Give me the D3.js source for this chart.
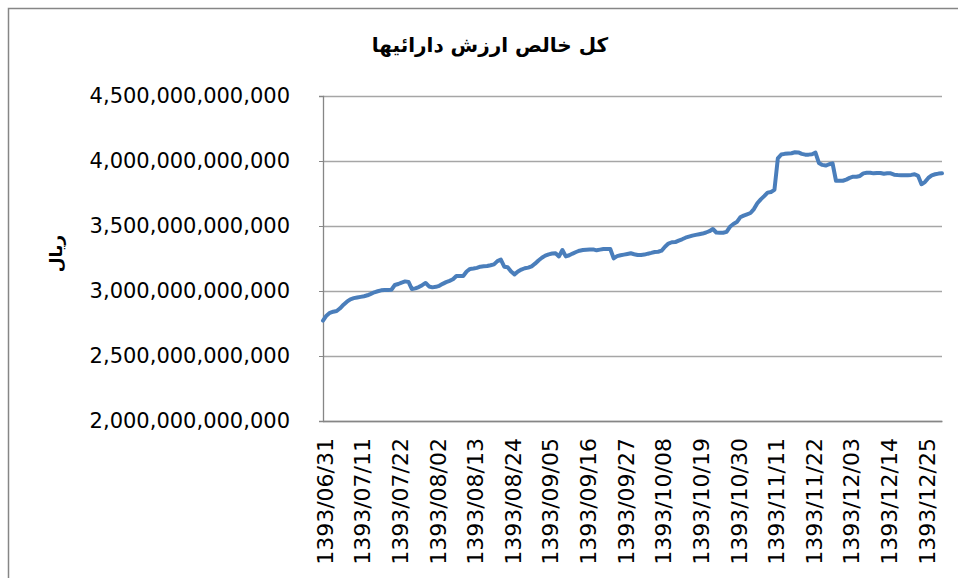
<!DOCTYPE html>
<meta charset="utf-8">
<script src="https://d3js.org/d3.v7.min.js"></script>
<style>
  body { margin: 0; background: #fff; }
  text { font-family: "DejaVu Sans", sans-serif; fill: #000; }
</style>
<div id="chart"></div>
<script>
// net asset value, billions of rials, one value per trading day
var nav = [
  2772, 2810, 2832, 2841, 2846, 2867, 2895, 2918, 2936, 2945,
  2950, 2955, 2960, 2967, 2978, 2990, 2998, 3005, 3007, 3008,
  3010, 3046, 3054, 3065, 3074, 3070, 3015, 3020, 3030, 3045,
  3062, 3035, 3028, 3032, 3040, 3055, 3068, 3078, 3090, 3115,
  3115, 3115, 3150, 3170, 3173, 3178, 3187, 3190, 3192, 3198,
  3205, 3230, 3242, 3187, 3183, 3150, 3128, 3150, 3165, 3175,
  3180, 3190, 3210, 3235, 3256, 3272, 3282, 3288, 3290, 3266,
  3315, 3266, 3275, 3288, 3300, 3310, 3315, 3318, 3320, 3320,
  3313, 3318, 3323, 3323, 3323, 3251, 3268, 3275, 3280, 3285,
  3290, 3283, 3277, 3277, 3280, 3287, 3293, 3300, 3302, 3310,
  3341, 3365, 3375, 3376, 3388, 3398, 3410, 3418, 3426, 3432,
  3437, 3442, 3450, 3460, 3477, 3450, 3448, 3448, 3455, 3494,
  3515, 3530, 3567, 3580, 3590, 3600, 3630, 3675, 3705, 3730,
  3757, 3762, 3778, 4020, 4050, 4055, 4058, 4060, 4067, 4066,
  4055, 4049, 4049, 4052, 4064, 3985, 3970, 3965, 3975, 3982,
  3848, 3848, 3848, 3857, 3870, 3879, 3879, 3885, 3905, 3910,
  3910, 3905, 3908, 3908, 3902, 3906, 3905, 3895, 3892, 3890,
  3890, 3891, 3893, 3898, 3886, 3821, 3838, 3870, 3890, 3898,
  3903, 3905
];

// category labels shown every 11th day
var dateLabels = [
  "1393/06/31", "1393/07/11", "1393/07/22", "1393/08/02", "1393/08/13",
  "1393/08/24", "1393/09/05", "1393/09/16", "1393/09/27", "1393/10/08",
  "1393/10/19", "1393/10/30", "1393/11/11", "1393/11/22", "1393/12/03",
  "1393/12/14", "1393/12/25"
];
var labelStep = 11;

var yTicks = [2000, 2500, 3000, 3500, 4000, 4500];

var W = 958, H = 578;
var margin = {top: 96, right: 16, bottom: 157, left: 323};
var width = W - margin.left - margin.right,
    height = H - margin.top - margin.bottom;

var svg = d3.select("#chart")
  .append("svg")
    .attr("width", W)
    .attr("height", H);

// outer chart frame
svg.append("rect")
  .attr("x", 8.5).attr("y", 8.5)
  .attr("width", W + 20).attr("height", H + 20)
  .attr("fill", "none")
  .attr("stroke", "#868686")
  .attr("stroke-width", 1.5);

var g = svg.append("g")
  .attr("transform", "translate(" + margin.left + "," + margin.top + ")");

var x = d3.scalePoint()
  .domain(d3.range(nav.length))
  .range([0, width]);

var y = d3.scaleLinear()
  .domain([2000, 4500])
  .range([height, 0]);

// gridlines
g.append("g")
  .selectAll("line")
  .data(yTicks)
  .enter()
  .append("line")
    .attr("x1", 0)
    .attr("x2", width)
    .attr("y1", function(d){ return Math.round(y(d)) + 0.5; })
    .attr("y2", function(d){ return Math.round(y(d)) + 0.5; })
    .attr("stroke", "#a6a6a6")
    .attr("stroke-width", 1.3);

// y axis
var yAxis = g.append("g")
  .call(d3.axisLeft(y)
    .tickValues(yTicks)
    .tickSize(4)
    .tickPadding(29)
    .tickFormat(function(d){ return d3.format(",.0f")(d * 1e9); }));
yAxis.select(".domain").attr("stroke", "#868686").attr("stroke-width", 1.3);
yAxis.selectAll(".tick line").attr("stroke", "#868686");
yAxis.selectAll("text")
  .style("font-size", "21px")
  .style("font-family", "DejaVu Sans");

// x axis
var xAxis = g.append("g")
  .attr("transform", "translate(0," + height + ")")
  .call(d3.axisBottom(x)
    .tickValues(d3.range(0, nav.length, labelStep))
    .tickSize(0)
    .tickFormat(function(d){ return dateLabels[d / labelStep]; }));
xAxis.select(".domain").attr("stroke", "#868686").attr("stroke-width", 1.3);
xAxis.selectAll("text")
  .style("font-size", "22px")
  .style("font-family", "DejaVu Sans")
  .style("text-anchor", "end")
  .attr("transform", "rotate(-90)")
  .attr("x", -17)
  .attr("y", 0)
  .attr("dy", "0.42em");

// the series
var line = d3.line()
  .x(function(d, i){ return x(i); })
  .y(function(d){ return y(d); });

g.append("path")
  .datum(nav)
  .attr("fill", "none")
  .attr("stroke", "#4a7ebb")
  .attr("stroke-width", 4)
  .attr("stroke-linejoin", "round")
  .attr("stroke-linecap", "round")
  .attr("d", line);

// title
svg.append("text")
  .attr("x", 490)
  .attr("y", 52)
  .attr("text-anchor", "middle")
  .style("font-size", "20px")
  .style("font-weight", "bold")
  .text("کل خالص ارزش دارائیها");

// y axis title
svg.append("text")
  .attr("transform", "translate(62," + (margin.top + height / 2 - 5) + ") rotate(-90)")
  .attr("text-anchor", "middle")
  .style("font-size", "17px")
  .style("font-weight", "bold")
  .text("ریال");
</script>
